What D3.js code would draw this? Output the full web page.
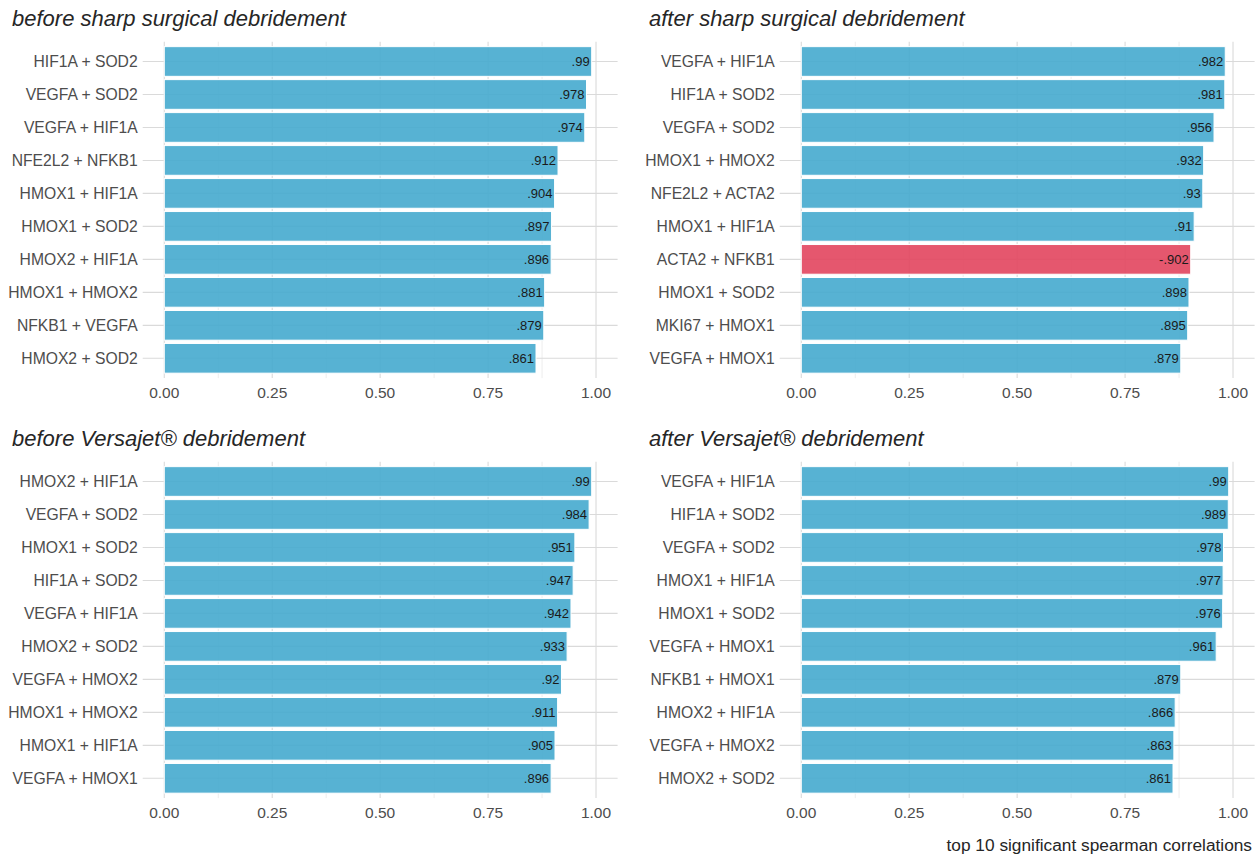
<!DOCTYPE html>
<html>
<head>
<meta charset="utf-8">
<script src="https://cdn.jsdelivr.net/npm/d3@7/dist/d3.min.js"></script>
<style>
  html, body { margin: 0; padding: 0; background: #ffffff; }
  svg { display: block; font-family: "Liberation Sans", Arial, sans-serif; }
</style>
</head>
<body>
<svg id="chart" width="1260" height="855"></svg>
<script>
// Panel titles
const panelTitles = [
  "before sharp surgical debridement",
  "after sharp surgical debridement",
  "before Versajet\u00AE debridement",
  "after Versajet\u00AE debridement"
];

// Gene pairs per panel (top to bottom)
const pairsBeforeSharp = ["HIF1A + SOD2", "VEGFA + SOD2", "VEGFA + HIF1A", "NFE2L2 + NFKB1", "HMOX1 + HIF1A",
  "HMOX1 + SOD2", "HMOX2 + HIF1A", "HMOX1 + HMOX2", "NFKB1 + VEGFA", "HMOX2 + SOD2"];
const rhoBeforeSharp = [0.99, 0.978, 0.974, 0.912, 0.904, 0.897, 0.896, 0.881, 0.879, 0.861];

const pairsAfterSharp = ["VEGFA + HIF1A", "HIF1A + SOD2", "VEGFA + SOD2", "HMOX1 + HMOX2", "NFE2L2 + ACTA2",
  "HMOX1 + HIF1A", "ACTA2 + NFKB1", "HMOX1 + SOD2", "MKI67 + HMOX1", "VEGFA + HMOX1"];
const rhoAfterSharp = [0.982, 0.981, 0.956, 0.932, 0.93, 0.91, -0.902, 0.898, 0.895, 0.879];

const pairsBeforeVersajet = ["HMOX2 + HIF1A", "VEGFA + SOD2", "HMOX1 + SOD2", "HIF1A + SOD2", "VEGFA + HIF1A",
  "HMOX2 + SOD2", "VEGFA + HMOX2", "HMOX1 + HMOX2", "HMOX1 + HIF1A", "VEGFA + HMOX1"];
const rhoBeforeVersajet = [0.99, 0.984, 0.951, 0.947, 0.942, 0.933, 0.92, 0.911, 0.905, 0.896];

const pairsAfterVersajet = ["VEGFA + HIF1A", "HIF1A + SOD2", "VEGFA + SOD2", "HMOX1 + HIF1A", "HMOX1 + SOD2",
  "VEGFA + HMOX1", "NFKB1 + HMOX1", "HMOX2 + HIF1A", "VEGFA + HMOX2", "HMOX2 + SOD2"];
const rhoAfterVersajet = [0.99, 0.989, 0.978, 0.977, 0.976, 0.961, 0.879, 0.866, 0.863, 0.861];

// Axis ticks
const majorTicks = [0, 0.25, 0.5, 0.75, 1];
const minorTicks = [0.125, 0.375, 0.625, 0.875];
const tickLabels = ["0.00", "0.25", "0.50", "0.75", "1.00"];

const captionText = "top 10 significant spearman correlations";

const panels = [
  { title: panelTitles[0], pairs: pairsBeforeSharp, rho: rhoBeforeSharp, dx: 0, dy: 0 },
  { title: panelTitles[1], pairs: pairsAfterSharp, rho: rhoAfterSharp, dx: 637, dy: 0 },
  { title: panelTitles[2], pairs: pairsBeforeVersajet, rho: rhoBeforeVersajet, dx: 0, dy: 420 },
  { title: panelTitles[3], pairs: pairsAfterVersajet, rho: rhoAfterVersajet, dx: 637, dy: 420 }
];

const posColor = "#45AACE";
const negColor = "#E2455E";
const gridMajor = "#DADADA";
const gridMinor = "#E9E9E9";

// Panel geometry (shared by all facets, shifted by dx/dy)
const panelLeft = 142.7, panelRight = 617.6, panelTop = 41.7, panelBottom = 378.1;

// Strip the leading zero, e.g. 0.902 -> .902, -0.902 -> -.902
const fmt = v => String(v).replace(/^(-?)0\./, "$1.");

const svg = d3.select("#chart");

panels.forEach(p => {
  const g = svg.append("g").attr("transform", `translate(${p.dx},${p.dy})`);

  const x = d3.scaleLinear().domain([-0.05, 1.05]).range([panelLeft, panelRight]);
  const y = d3.scaleBand().domain(p.pairs).range([panelTop, panelBottom])
    .paddingInner(0.1).paddingOuter(0.15);

  // minor vertical grid
  g.append("g").selectAll("line").data(minorTicks).join("line")
    .attr("x1", d => x(d)).attr("x2", d => x(d))
    .attr("y1", panelTop).attr("y2", panelBottom)
    .attr("stroke", gridMinor).attr("stroke-width", 0.8);

  // major vertical grid
  g.append("g").selectAll("line").data(majorTicks).join("line")
    .attr("x1", d => x(d)).attr("x2", d => x(d))
    .attr("y1", panelTop).attr("y2", panelBottom)
    .attr("stroke", gridMajor).attr("stroke-width", 1.1);

  // horizontal grid at each category
  g.append("g").selectAll("line").data(p.pairs).join("line")
    .attr("x1", panelLeft).attr("x2", panelRight)
    .attr("y1", d => y(d) + y.bandwidth() / 2).attr("y2", d => y(d) + y.bandwidth() / 2)
    .attr("stroke", gridMajor).attr("stroke-width", 1.1);

  const rows = p.pairs.map((k, i) => ({ k, v: p.rho[i] }));

  // bars: length = |rho|, colour by sign
  g.append("g").selectAll("rect").data(rows).join("rect")
    .attr("x", x(0))
    .attr("y", d => y(d.k))
    .attr("width", d => x(Math.abs(d.v)) - x(0))
    .attr("height", y.bandwidth())
    .attr("fill", d => d.v < 0 ? negColor : posColor)
    .attr("fill-opacity", 0.9)
    .attr("stroke", "#ffffff")
    .attr("stroke-width", 1);

  // value labels inside bar ends
  g.append("g").selectAll("text").data(rows).join("text")
    .attr("x", d => x(Math.abs(d.v)) - 2)
    .attr("y", d => y(d.k) + y.bandwidth() / 2)
    .attr("dy", "0.36em")
    .attr("text-anchor", "end")
    .attr("font-size", 13)
    .attr("fill", "#1a1a1a")
    .text(d => fmt(d.v));

  // y-axis labels
  g.append("g").selectAll("text").data(p.pairs).join("text")
    .attr("x", panelLeft - 5)
    .attr("y", d => y(d) + y.bandwidth() / 2)
    .attr("dy", "0.36em")
    .attr("text-anchor", "end")
    .attr("font-size", 15.7)
    .attr("fill", "#4D4D4D")
    .text(d => d);

  // x-axis tick labels
  g.append("g").selectAll("text").data(majorTicks).join("text")
    .attr("x", d => x(d))
    .attr("y", panelBottom + 20)
    .attr("text-anchor", "middle")
    .attr("font-size", 15.5)
    .attr("fill", "#4D4D4D")
    .text((d, i) => tickLabels[i]);

  // facet title
  g.append("text")
    .attr("x", 12)
    .attr("y", 26)
    .attr("font-size", 22)
    .attr("font-style", "italic")
    .attr("fill", "#262626")
    .text(p.title);
});

// caption
svg.append("text")
  .attr("x", 1252)
  .attr("y", 851)
  .attr("text-anchor", "end")
  .attr("font-size", 17.3)
  .attr("fill", "#262626")
  .text(captionText);
</script>
</body>
</html>
